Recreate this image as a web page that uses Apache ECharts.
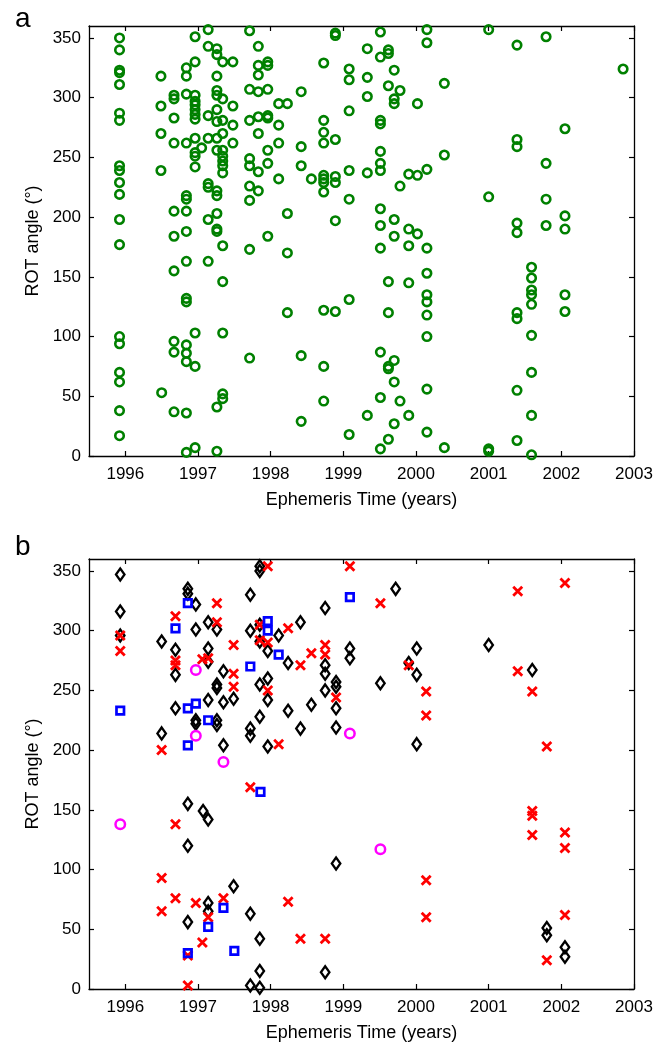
<!DOCTYPE html>
<html>
<head>
<meta charset="utf-8">
<script src="https://cdn.jsdelivr.net/npm/echarts@6/dist/echarts.min.js"></script>
<style>
  html, body { margin: 0; padding: 0; background: #fff; }
  #chart { width: 668px; height: 1043px; }
</style>
</head>
<body>
<div id="chart"></div>
<script>
// Tick positions shared by both panels
const yearTicks = [1996, 1997, 1998, 1999, 2000, 2001, 2002, 2003];
const angleTicks = [0, 50, 100, 150, 200, 250, 300, 350];

// Panel a: ROT angles grouped by observation epoch [year, [angles in degrees]]
const rotColumnsA = [
  [1995.92, [350, 340, 323, 321, 311, 287, 281, 243, 239, 229, 219, 198, 177, 100, 94, 70, 62, 38, 17]],
  [1996.49, [318, 293, 270, 239]],
  [1996.50, [53]],
  [1996.67, [302, 299, 283, 262, 205, 184, 155, 96, 87, 37]],
  [1996.84, [325, 318, 303, 262, 218, 215, 205, 188, 163, 132, 129, 93, 86, 79, 36, 3]],
  [1996.96, [351, 330, 302, 297, 294, 290, 286, 282, 266, 254, 251, 242, 103, 75, 7]],
  [1997.05, [258]],
  [1997.14, [357, 343, 285, 266, 228, 225, 198, 163]],
  [1997.26, [341, 336, 318, 306, 302, 290, 280, 266, 256, 222, 218, 203, 190, 188, 41, 4]],
  [1997.34, [330, 299, 281, 270, 256, 251, 247, 243, 237, 176, 146, 103, 52, 48]],
  [1997.48, [330, 293, 277, 262]],
  [1997.71, [356, 307, 281, 249, 243, 226, 214, 173, 82]],
  [1997.83, [343, 327, 319, 305, 284, 270, 238, 222]],
  [1997.96, [330, 327, 307, 285, 283, 256, 245, 184]],
  [1998.11, [295, 277, 262, 232]],
  [1998.23, [295, 203, 170, 120]],
  [1998.42, [305, 259, 243, 84, 29]],
  [1998.56, [232]],
  [1998.73, [329, 281, 271, 262, 235, 232, 229, 221, 122, 75, 46]],
  [1998.89, [354, 352, 265, 234, 229, 197, 121]],
  [1999.08, [324, 315, 289, 239, 215, 131, 18]],
  [1999.33, [341, 317, 301, 237, 34]],
  [1999.51, [355, 334, 281, 278, 255, 245, 239, 207, 193, 174, 87, 49, 6]],
  [1999.62, [340, 337, 310, 146, 120, 75, 73, 14]],
  [1999.70, [323, 299, 295, 198, 184, 80, 62, 27]],
  [1999.78, [306, 226, 46]],
  [1999.90, [236, 190, 176, 145, 34]],
  [2000.02, [295, 235, 186]],
  [2000.15, [357, 346, 240, 174, 153, 135, 129, 118, 100, 56, 20]],
  [2000.39, [312, 252, 7]],
  [2001.00, [357, 217, 6, 4]],
  [2001.39, [344, 265, 259, 195, 187, 120, 115, 55, 13]],
  [2001.59, [158, 149, 139, 135, 127, 101, 70, 34, 1]],
  [2001.79, [351, 245, 215, 193]],
  [2002.05, [274, 201, 190, 135, 121]],
  [2002.85, [324]]
];

// Panel b: [year, angle] for each marker class
const diamondsB = [
  [1995.93, 347], [1995.93, 316], [1995.93, 296],
  [1996.50, 291], [1996.50, 214],
  [1996.69, 284], [1996.69, 263], [1996.69, 235],
  [1996.86, 335], [1996.86, 331], [1996.86, 155], [1996.86, 120], [1996.86, 56],
  [1996.97, 322], [1996.97, 301], [1996.97, 225], [1996.97, 222],
  [1997.07, 149], [1997.14, 142],
  [1997.14, 307], [1997.14, 285], [1997.14, 274], [1997.14, 242], [1997.14, 72], [1997.14, 65],
  [1997.26, 301], [1997.26, 255], [1997.26, 252], [1997.26, 225], [1997.26, 221],
  [1997.35, 266], [1997.35, 240], [1997.35, 204],
  [1997.49, 243], [1997.49, 86],
  [1997.72, 330], [1997.72, 300], [1997.72, 218], [1997.72, 212], [1997.72, 63], [1997.72, 3],
  [1997.85, 354], [1997.85, 350], [1997.85, 305], [1997.85, 291], [1997.85, 255], [1997.85, 228],
  [1997.85, 42], [1997.85, 15], [1997.85, 1],
  [1997.96, 283], [1997.96, 260], [1997.96, 242], [1997.96, 203],
  [1998.11, 296],
  [1998.24, 273], [1998.24, 233],
  [1998.41, 307], [1998.41, 218],
  [1998.56, 238],
  [1998.75, 319], [1998.75, 271], [1998.75, 264], [1998.75, 250], [1998.75, 14],
  [1998.90, 257], [1998.90, 253], [1998.90, 235], [1998.90, 219], [1998.90, 105],
  [1999.09, 285], [1999.09, 277],
  [1999.51, 256],
  [1999.72, 335],
  [1999.90, 273],
  [2000.01, 285], [2000.01, 263], [2000.01, 205],
  [2001.00, 288],
  [2001.60, 267],
  [2001.80, 51], [2001.80, 45],
  [2002.05, 35], [2002.05, 27]
];

const crossesB = [
  [1995.93, 296], [1995.93, 283],
  [1996.50, 200], [1996.50, 93], [1996.50, 65],
  [1996.69, 312], [1996.69, 275], [1996.69, 271], [1996.69, 138], [1996.69, 76],
  [1996.86, 28], [1996.86, 3],
  [1996.97, 72],
  [1997.06, 276], [1997.14, 277], [1997.06, 39], [1997.14, 60],
  [1997.26, 323], [1997.26, 307],
  [1997.35, 76],
  [1997.49, 288], [1997.49, 264], [1997.49, 253],
  [1997.72, 169],
  [1997.85, 305], [1997.85, 292], [1997.96, 290], [1997.96, 354], [1997.96, 250],
  [1998.11, 205],
  [1998.24, 302], [1998.24, 73],
  [1998.41, 271], [1998.41, 42],
  [1998.56, 281],
  [1998.75, 288], [1998.75, 280], [1998.75, 42],
  [1998.90, 244],
  [1999.09, 354],
  [1999.51, 323],
  [1999.90, 271],
  [2000.14, 249], [2000.14, 229], [2000.14, 91], [2000.14, 60],
  [2001.40, 333], [2001.40, 266],
  [2001.60, 249], [2001.60, 149], [2001.60, 145], [2001.60, 129],
  [2001.80, 203], [2001.80, 24],
  [2002.05, 340], [2002.05, 131], [2002.05, 118], [2002.05, 62]
];

const squaresB = [
  [1995.93, 233], [1996.69, 302], [1996.86, 323], [1996.86, 235], [1996.97, 239],
  [1996.86, 204], [1997.14, 225], [1997.72, 270], [1997.96, 308], [1997.96, 300],
  [1998.11, 280], [1997.86, 165], [1999.09, 328], [1997.35, 68], [1997.14, 52],
  [1997.50, 32], [1996.86, 30]
];

const ringsB = [
  [1995.93, 138], [1996.97, 267], [1996.97, 212], [1997.35, 190], [1999.09, 214], [1999.51, 117]
];

const pointsA = [];
rotColumnsA.forEach(([year, angles]) => angles.forEach(a => pointsA.push([year, a])));

const FONT = 'Liberation Sans, Arial, Helvetica, sans-serif';

function xAxes(gridIndex) {
  const base = {
    type: 'value', gridIndex, min: 1995.5, max: 2003,
    splitLine: { show: false },
    axisLine: { show: true, onZero: false, lineStyle: { color: '#000', width: 1.3 } },
    axisTick: { show: true, inside: true, length: 5, customValues: yearTicks, lineStyle: { color: '#000', width: 1.2 } }
  };
  return [
    Object.assign({}, base, {
      position: 'bottom',
      axisLabel: { show: true, customValues: yearTicks, margin: 10, color: '#000', fontSize: 17, fontFamily: FONT, formatter: v => String(Math.round(v)) },
      name: 'Ephemeris Time (years)', nameLocation: 'middle', nameGap: 35,
      nameTextStyle: { color: '#000', fontSize: 18, fontFamily: FONT }
    }),
    Object.assign({}, base, { position: 'top', axisLabel: { show: false } })
  ];
}

function yAxes(gridIndex) {
  const base = {
    type: 'value', gridIndex, min: 0, max: 360,
    splitLine: { show: false },
    axisLine: { show: true, onZero: false, lineStyle: { color: '#000', width: 1.3 } },
    axisTick: { show: true, inside: true, length: 5, customValues: angleTicks, lineStyle: { color: '#000', width: 1.2 } }
  };
  return [
    Object.assign({}, base, {
      position: 'left',
      axisLabel: { show: true, customValues: angleTicks, margin: 8, color: '#000', fontSize: 17, fontFamily: FONT },
      name: 'ROT angle (\u00B0)', nameLocation: 'middle', nameGap: 47,
      nameTextStyle: { color: '#000', fontSize: 18, fontFamily: FONT }
    }),
    Object.assign({}, base, { position: 'right', axisLabel: { show: false } })
  ];
}

const hollow = (color, width) => ({ color: 'rgba(0,0,0,0)', borderColor: color, borderWidth: width, opacity: 1 });

const chart = echarts.init(document.getElementById('chart'), null, { renderer: 'canvas' });
chart.setOption({
  animation: false,
  backgroundColor: '#fff',
  grid: [
    { left: 89, top: 26, width: 545, height: 430 },
    { left: 89, top: 559, width: 545, height: 430 }
  ],
  xAxis: [...xAxes(0), ...xAxes(1)],
  yAxis: [...yAxes(0), ...yAxes(1)],
  graphic: [
    { type: 'text', left: 15, top: 5, style: { text: 'a', fontSize: 28, fontFamily: FONT, fill: '#000' } },
    { type: 'text', left: 15, top: 533, style: { text: 'b', fontSize: 28, fontFamily: FONT, fill: '#000' } }
  ],
  series: [
    {
      type: 'scatter', xAxisIndex: 0, yAxisIndex: 0, data: pointsA,
      symbol: 'circle', symbolSize: 8.5, itemStyle: hollow('#008000', 2.6), silent: true
    },
    {
      type: 'scatter', xAxisIndex: 2, yAxisIndex: 2, data: diamondsB,
      symbol: 'diamond', symbolSize: [8.5, 12], itemStyle: hollow('#000', 2.4), silent: true
    },
    {
      type: 'scatter', xAxisIndex: 2, yAxisIndex: 2, data: crossesB,
      symbol: 'path://M0,0L10,10M0,10L10,0', symbolSize: 9, itemStyle: hollow('#ff0000', 2.8), silent: true
    },
    {
      type: 'scatter', xAxisIndex: 2, yAxisIndex: 2, data: squaresB,
      symbol: 'rect', symbolSize: 7.5, itemStyle: hollow('#0000ff', 2.7), silent: true
    },
    {
      type: 'scatter', xAxisIndex: 2, yAxisIndex: 2, data: ringsB,
      symbol: 'circle', symbolSize: 9.5, itemStyle: hollow('#ff00ff', 2.5), silent: true
    }
  ]
});
</script>
</body>
</html>
